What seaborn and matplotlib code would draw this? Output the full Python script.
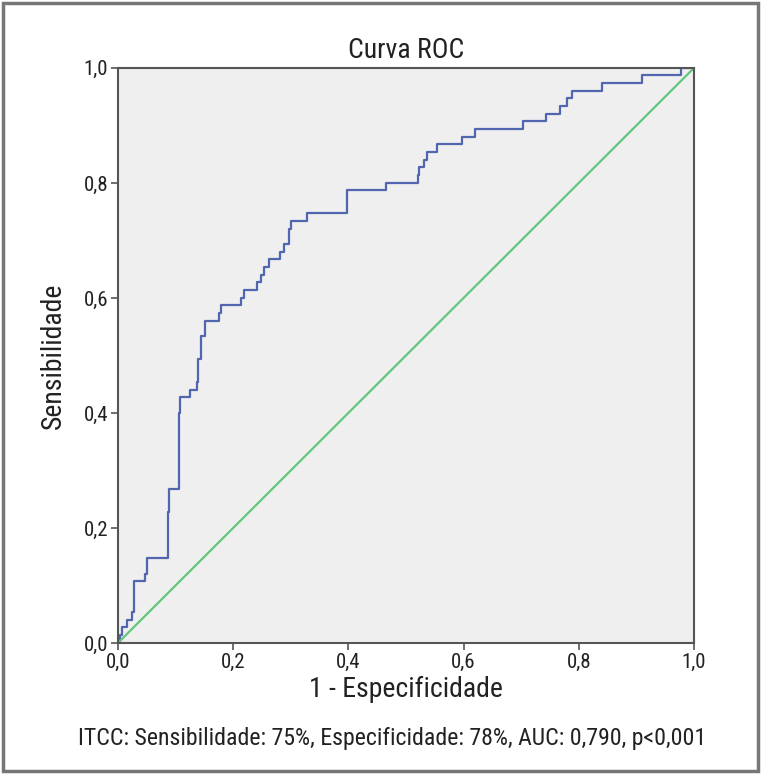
import matplotlib
matplotlib.use("Agg")
import matplotlib.pyplot as plt
import matplotlib.patches as mpatches
import seaborn as sns

# ROC curve vertices (1 - especificidade, sensibilidade)
fpr = [0.0, 0.003, 0.007, 0.016, 0.024, 0.027, 0.047, 0.050, 0.087, 0.089,
       0.106, 0.108, 0.125, 0.137, 0.139, 0.145, 0.151, 0.176, 0.179, 0.213,
       0.219, 0.241, 0.249, 0.253, 0.263, 0.282, 0.289, 0.297, 0.300, 0.329,
       0.397, 0.465, 0.520, 0.523, 0.532, 0.537, 0.554, 0.598, 0.619, 0.703,
       0.743, 0.767, 0.779, 0.789, 0.840, 0.909, 0.978, 1.0]
tpr = [0.0, 0.013, 0.027, 0.040, 0.053, 0.107, 0.120, 0.147, 0.227, 0.267,
       0.400, 0.427, 0.440, 0.453, 0.493, 0.533, 0.560, 0.573, 0.587, 0.600,
       0.613, 0.627, 0.640, 0.653, 0.667, 0.680, 0.693, 0.720, 0.733, 0.747,
       0.787, 0.800, 0.813, 0.827, 0.840, 0.853, 0.867, 0.880, 0.893, 0.907,
       0.920, 0.933, 0.947, 0.960, 0.973, 0.987, 1.0, 1.0]
ref_line = [0.0, 1.0]
ticks = [0.0, 0.2, 0.4, 0.6, 0.8, 1.0]
tick_labels = ["0,0", "0,2", "0,4", "0,6", "0,8", "1,0"]
note = "ITCC: Sensibilidade: 75%, Especificidade: 78%, AUC: 0,790, p<0,001"

sns.set_style("ticks")
plt.rcParams['font.family'] = ['Roboto Condensed', 'Barlow Semi Condensed', 'DejaVu Sans']

fig = plt.figure(figsize=(7.61, 7.74), dpi=100)
ax = fig.add_axes([0.155, 0.1693, 0.757, 0.743])
ax.set_facecolor("#efefef")

sns.lineplot(x=fpr, y=tpr, ax=ax, color="#5266b0", linewidth=1.6,
             drawstyle="steps-post", estimator=None, sort=False)
sns.lineplot(x=ref_line, y=ref_line, ax=ax, color="#62c77c", linewidth=1.6,
             estimator=None)

ax.set_xlim(0, 1)
ax.set_ylim(0, 1)
ax.set_xticks(ticks)
ax.set_xticklabels(tick_labels)
ax.set_yticks(ticks)
ax.set_yticklabels(tick_labels)
ax.tick_params(direction="out", length=5, width=1.2, color="#555555",
               labelsize=15, labelcolor="#222222", pad=2)
for s in ax.spines.values():
    s.set_color("#555555")
    s.set_linewidth(1.5)

ax.set_title("Curva ROC", fontsize=20, color="#222222", pad=7)
ax.set_xlabel("1 - Especificidade", fontsize=20, color="#222222", labelpad=3)
ax.set_ylabel("Sensibilidade", fontsize=20, color="#222222", labelpad=12)

fig.text(0.515, 0.046, note, ha="center", va="center", fontsize=17.2,
         color="#222222")

fig.patches.append(mpatches.Rectangle((0.004, 0.004), 0.992, 0.992,
                                      transform=fig.transFigure, fill=False,
                                      edgecolor="#777777", linewidth=2.5))

fig.savefig("out.png", dpi=100)
